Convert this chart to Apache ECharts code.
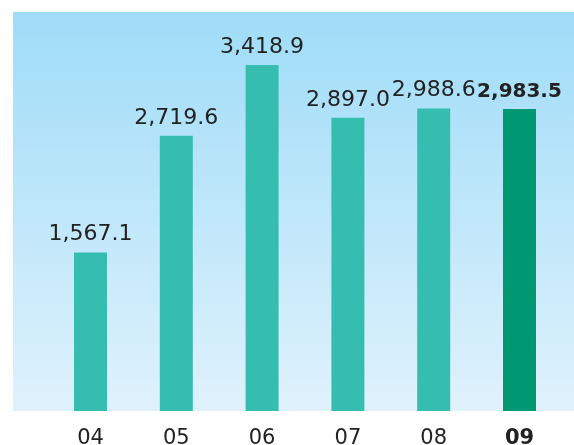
<!DOCTYPE html>
<html>
<head>
<meta charset="utf-8">
<script src="https://cdn.jsdelivr.net/npm/echarts@6/dist/echarts.min.js"></script>
<style>
  html, body { margin: 0; padding: 0; background: #fff; }
  #chart { width: 574px; height: 445px; }
</style>
</head>
<body>
<div id="chart"></div>
<script>
var years = ['04', '05', '06', '07', '08', '09'];
var values = [1567.1, 2719.6, 3418.9, 2897.0, 2988.6, 2983.5];

var chart = echarts.init(document.getElementById('chart'));

function fmt(v) {
  return v.toLocaleString('en-US', { minimumFractionDigits: 1, maximumFractionDigits: 1 });
}

var barData = values.map(function (v, i) {
  var last = i === values.length - 1;
  return {
    value: v,
    itemStyle: { color: last ? '#009873' : '#35bdb0' },
    label: last ? { fontWeight: 'bold', fontSize: 20 } : {}
  };
});

var option = {
  backgroundColor: '#fff',
  animation: false,
  graphic: [{
    type: 'rect',
    z: -10,
    shape: { x: 13, y: 12, width: 561, height: 399 },
    style: {
      fill: new echarts.graphic.LinearGradient(0, 0, 0, 1, [
        { offset: 0, color: '#9fdcf8' },
        { offset: 1, color: '#dff2fc' }
      ])
    }
  }],
  grid: { left: 47.6, right: 11.6, top: 12, bottom: 34, containLabel: false, outerBoundsMode: 'none' },
  xAxis: {
    type: 'category',
    data: years,
    axisLine: { show: false },
    axisTick: { show: false },
    axisLabel: {
      interval: 0,
      hideOverlap: false,
      margin: 17,
      fontSize: 21,
      fontFamily: 'DejaVu Sans',
      color: '#222',
      formatter: function (v) {
        return v === '09' ? '{b|' + v + '}' : v;
      },
      rich: { b: { fontWeight: 'bold', fontSize: 21, fontFamily: 'DejaVu Sans', color: '#222' } }
    }
  },
  yAxis: {
    type: 'value',
    min: 0,
    max: 3943,
    show: false,
    splitLine: { show: false }
  },
  series: [{
    type: 'bar',
    data: barData,
    barWidth: 33,
    label: {
      show: true,
      position: 'top',
      distance: 7,
      fontSize: 22,
      fontFamily: 'DejaVu Sans',
      color: '#222',
      formatter: function (p) { return fmt(p.value); }
    }
  }]
};

chart.setOption(option);
</script>
</body>
</html>
